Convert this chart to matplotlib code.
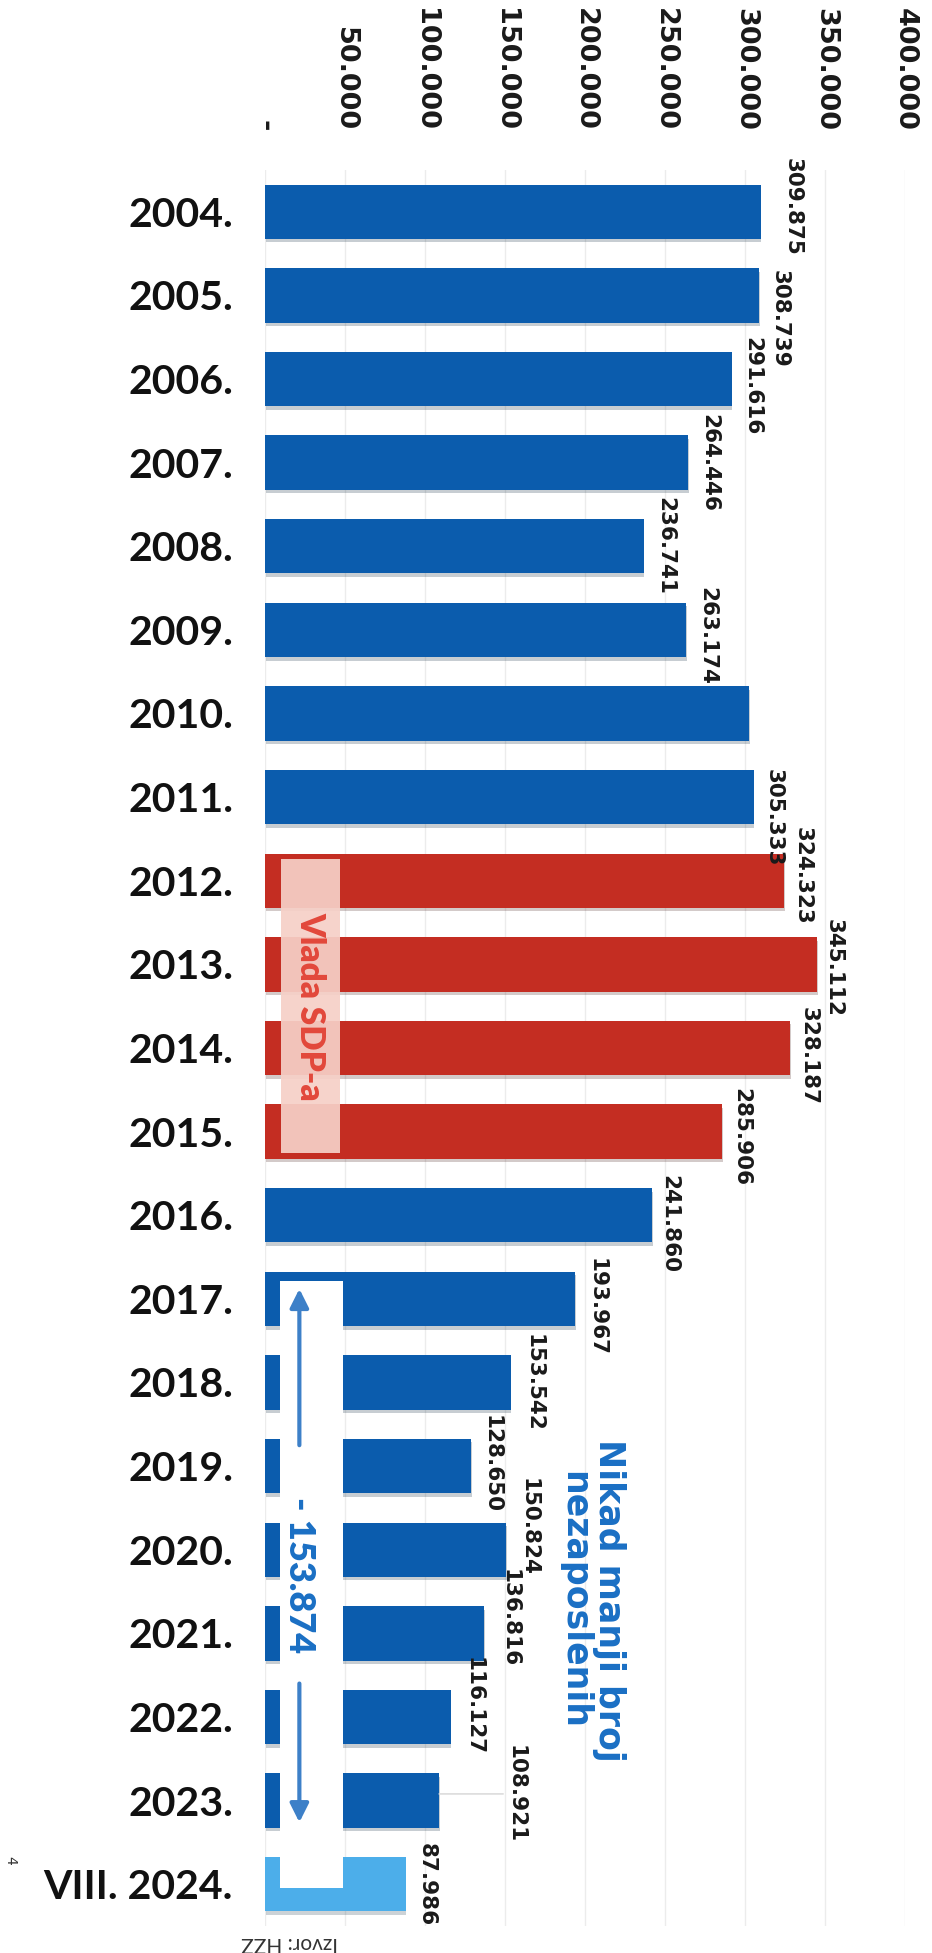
import numpy as np
import matplotlib.pyplot as plt
import matplotlib.patheffects as pe
from matplotlib.patches import Rectangle

# registered unemployed (HZZ), yearly averages, 2024 = August
years = ['2004.', '2005.', '2006.', '2007.', '2008.', '2009.', '2010.',
         '2011.', '2012.', '2013.', '2014.', '2015.', '2016.', '2017.',
         '2018.', '2019.', '2020.', '2021.', '2022.', '2023.', 'VIII. 2024.']
unemployed = [309875, 308739, 291616, 264446, 236741, 263174, 302425,
              305333, 324323, 345112, 328187, 285906, 241860, 193967,
              153542, 128650, 150824, 136816, 116127, 108921, 87986]
# which government / period each bar belongs to
period = ['other'] * 8 + ['sdp'] * 4 + ['other'] * 8 + ['current']
# 2010 has no value label in the original
labelled = [y != '2010.' for y in years]
tick_vals = np.arange(0, 400001, 50000)

colors = {'other': '#0b5cad', 'sdp': '#c42d22', 'current': '#4caeea'}
blue_txt = '#1a6fc4'

# small manual nudges of value labels (category units / points), like in the original
dy = [-0.06, 0.28, 0.08, 0, 0, 0.07, 0, 0.25, -0.06, 0.04, 0.09, 0.06, 0.1,
      0.1, 0, -0.03, -0.27, -0.18, -0.13, -0.08, 0.0]
dx = [16, 8, 8, 8, 8, 8, 8, 7, 6, 5, 6, 6, 5, 8, 9, 8, 9, 11, 9, 48, 8]


def fmt(v):
    return f'{v:,}'.replace(',', '.')


fig = plt.figure(figsize=(9.32, 19.53), dpi=100)
ax = fig.add_axes([0.2843, 0.0138, 0.6867, 0.8992])

ypos = np.arange(len(years))
bars = ax.barh(ypos, unemployed, height=0.65,
               color=[colors[p] for p in period], zorder=2)
for b in bars:
    b.set_path_effects([pe.SimplePatchShadow(offset=(0.5, -2.5), alpha=0.22),
                        pe.Normal()])

ax.set_xlim(0, 400000)
ax.set_ylim(len(years) - 0.5, -0.5)
for s in ax.spines.values():
    s.set_visible(False)
ax.set_axisbelow(True)
ax.grid(axis='x', color='#ececec', lw=1)

ax.xaxis.tick_top()
ax.set_xticks(tick_vals, ['-'] + [fmt(v) for v in tick_vals[1:]],
              rotation=-90, fontsize=19.5, fontweight='bold',
              family='DejaVu Sans', color='#1a1a1a')
ax.set_yticks(ypos, years, fontsize=29.5, fontweight='bold', family='Lato',
              color='#111111')
ax.tick_params(axis='x', length=0, pad=28)
ax.tick_params(axis='y', length=0, pad=23)

# value labels, rotated like the rest of the page
for i, v in enumerate(unemployed):
    if not labelled[i]:
        continue
    arrow = None
    if dx[i] > 20:
        arrow = dict(arrowstyle='-', color='#dcdcdc', lw=1.2,
                     shrinkA=0, shrinkB=0)
    ax.annotate(fmt(v), xy=(v, i + dy[i]), xytext=(dx[i], 0),
                textcoords='offset points', rotation=-90, ha='left',
                va='center', fontsize=15.5, fontweight='bold',
                family='DejaVu Sans', color='#1a1a1a', zorder=5,
                arrowprops=arrow)

# "Vlada SDP-a" band over the red bars
ax.add_patch(Rectangle((10000, 7.74), 37000, 3.51, fc='#f6d0c7', ec='none',
                       alpha=0.93, zorder=3))
ax.text(28500, 9.5, 'Vlada SDP-a', rotation=-90, ha='center', va='center',
        fontsize=24, fontweight='heavy', family='Lato', color='#e2483b',
        zorder=4)

# white bracket with the drop since 2016
ax.add_patch(Rectangle((9300, 12.785), 39700, 20.04 - 12.785, fc='white',
                       ec='none', zorder=3))
arr = dict(arrowstyle='-|>', lw=3, color='#3d80c8', mutation_scale=28,
           shrinkA=0, shrinkB=0)
ax.annotate('', xy=(21500, 12.88), xytext=(21500, 14.75), arrowprops=arr,
            zorder=4)
ax.annotate('', xy=(21500, 19.26), xytext=(21500, 17.6), arrowprops=arr,
            zorder=4)
ax.text(21500, 16.3, '- 153.874', rotation=-90, ha='center', va='center',
        fontsize=26, fontweight='heavy', family='Lato', color=blue_txt,
        zorder=4)

ax.text(204000, 16.6, 'Nikad manji broj\nnezaposlenih', rotation=-90,
        ha='center', va='center', multialignment='center', fontsize=25,
        fontweight='bold', family='DejaVu Sans', color=blue_txt,
        linespacing=1.05)

fig.text(290 / 932, 1 - 1943 / 1953, 'Izvor: HZZ', rotation=180,
         ha='center', va='center', fontsize=15, family='Lato',
         color='#333333')
fig.text(0.004, 1 - 1860 / 1953, '4', rotation=-90, ha='left', va='center',
         fontsize=10, color='#333333')

fig.savefig('out.png', dpi=100, facecolor='white')
